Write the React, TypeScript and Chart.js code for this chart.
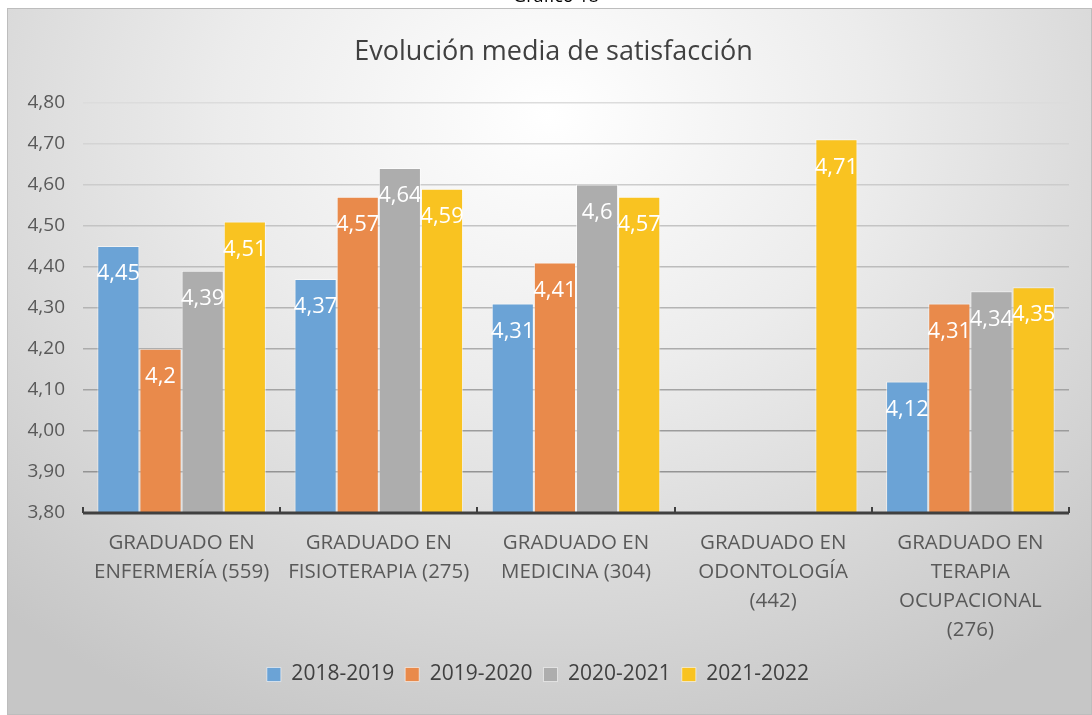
import React, { useEffect, useRef } from "react";
import { Chart, registerables } from "chart.js";

Chart.register(...registerables);

const categories: string[][] = [
  ["GRADUADO EN", "ENFERMERÍA (559)"],
  ["GRADUADO EN", "FISIOTERAPIA (275)"],
  ["GRADUADO EN", "MEDICINA (304)"],
  ["GRADUADO EN", "ODONTOLOGÍA", "(442)"],
  ["GRADUADO EN", "TERAPIA", "OCUPACIONAL", "(276)"],
];

const seriesNames = ["2018-2019", "2019-2020", "2020-2021", "2021-2022"];
const values2018: (number | null)[] = [4.45, 4.37, 4.31, null, 4.12];
const values2019: (number | null)[] = [4.2, 4.57, 4.41, null, 4.31];
const values2020: (number | null)[] = [4.39, 4.64, 4.6, null, 4.34];
const values2021: (number | null)[] = [4.51, 4.59, 4.57, 4.71, 4.35];
const seriesColors = ["#6BA3D6", "#E98A4B", "#ADADAD", "#F9C321"];

const titleText = "Evolución media de satisfacción";
const yMin = 3.8;
const yMax = 4.8;
const yStep = 0.1;

const fmtTick = (v: number) => (Math.round(v * 100) / 100).toFixed(2).replace(".", ",");
const fmtLabel = (v: number) => String(v).replace(".", ",");

const FONT = "'Open Sans', sans-serif";

const dataLabelPlugin = {
  id: "dataLabels",
  afterDatasetsDraw(chart: any) {
    const ctx = chart.ctx;
    ctx.save();
    ctx.fillStyle = "#ffffff";
    ctx.font = "22px " + FONT;
    ctx.textAlign = "center";
    ctx.textBaseline = "middle";
    chart.data.datasets.forEach((ds: any, i: number) => {
      const meta = chart.getDatasetMeta(i);
      meta.data.forEach((el: any, j: number) => {
        const v = ds.data[j];
        if (v === null || v === undefined) return;
        ctx.fillText(fmtLabel(v), el.x, el.y + 28);
      });
    });
    ctx.restore();
  },
};

const titleDrawPlugin = {
  id: "titleDraw",
  afterDraw(chart: any) {
    const tb = chart.titleBlock;
    if (!tb) return;
    const ctx = chart.ctx;
    ctx.save();
    ctx.fillStyle = "#404040";
    ctx.font = "27px " + FONT;
    ctx.textAlign = "center";
    ctx.textBaseline = "middle";
    const size = 27 * 1.2;
    ctx.fillText(titleText, chart.width / 2 + 4, tb.top + 27 + size / 2 + 1);
    ctx.restore();
  },
};

const axisPlugin = {
  id: "xAxisLine",
  afterDatasetsDraw(chart: any) {
    const ctx = chart.ctx;
    const area = chart.chartArea;
    const n = chart.data.labels.length;
    const w = (area.right - area.left) / n;
    ctx.save();
    ctx.strokeStyle = "#404040";
    ctx.lineWidth = 3;
    ctx.beginPath();
    ctx.moveTo(area.left, area.bottom);
    ctx.lineTo(area.right, area.bottom);
    ctx.stroke();
    ctx.lineWidth = 2;
    for (let i = 0; i <= n; i++) {
      const x = Math.round(area.left + i * w);
      ctx.beginPath();
      ctx.moveTo(x, area.bottom);
      ctx.lineTo(x, area.bottom - 6);
      ctx.stroke();
    }
    ctx.restore();
  },
};

export default function App() {
  const ref = useRef<HTMLCanvasElement | null>(null);

  useEffect(() => {
    if (!ref.current) return;
    Chart.defaults.font.family = FONT;
    const all = [values2018, values2019, values2020, values2021];
    const chart = new Chart(ref.current, {
      type: "bar",
      data: {
        labels: categories,
        datasets: all.map((d, i) => ({
          label: seriesNames[i],
          data: d,
          backgroundColor: seriesColors[i],
          borderColor: "rgba(255,255,255,0.55)",
          borderWidth: 1,
          categoryPercentage: 0.855,
          barPercentage: 1,
        })),
      },
      options: {
        responsive: false,
        animation: false,
        layout: { padding: { left: 0, right: 23, top: 0, bottom: 20 } },
        plugins: {
          title: {
            display: true,
            text: titleText,
            color: "rgba(0,0,0,0)",
            font: { size: 27, weight: "normal", family: FONT },
            padding: { top: 27, bottom: 35 },
          },
          legend: {
            position: "bottom",
            labels: {
              color: "#404040",
              font: { size: 21, family: FONT },
              boxWidth: 14,
              boxHeight: 14,
              padding: 11,
            },
          },
          tooltip: { enabled: false },
        },
        scales: {
          x: {
            grid: { display: false },
            border: { display: false },
            ticks: {
              color: "#595959",
              font: { size: 20.5, family: FONT, lineHeight: 1.415 },
              padding: 8,
              maxRotation: 0,
              autoSkip: false,
            },
            afterFit: (s: any) => {
              s.height = 140;
            },
          },
          y: {
            min: yMin,
            max: yMax,
            border: { display: false },
            grid: {
              drawTicks: false,
              lineWidth: 1.5,
              color: (c: any) => {
                const t = (c.tick ? c.tick.value - yMin : 0) / (yMax - yMin);
                const g = Math.round(140 + t * 80);
                return `rgb(${g},${g},${g})`;
              },
            },
            ticks: {
              stepSize: yStep,
              color: "#595959",
              font: { size: 19, family: FONT },
              padding: 18,
              callback: (v: any) => fmtTick(Number(v)),
            },
            afterFit: (s: any) => {
              s.width = 76;
            },
          },
        },
      },
      plugins: [axisPlugin, dataLabelPlugin, titleDrawPlugin],
    });
    return () => chart.destroy();
  }, []);

  return (
    <div
      style={{
        position: "fixed",
        left: 7,
        top: 8,
        width: 1085,
        height: 707,
        border: "1px solid #bdbdbd",
        boxSizing: "border-box",
        background:
          "radial-gradient(ellipse 75% 95% at 50% 15%, #ffffff 0%, #ececec 40%, #d6d6d6 75%, #c6c6c6 100%)",
      }}
    >
      <div
        style={{
          position: "absolute",
          top: -26,
          left: 0,
          width: 1096,
          textAlign: "center",
          fontFamily: FONT,
          fontSize: 18,
          color: "#000",
        }}
      >
        Gráfico 18
      </div>
      <canvas ref={ref} width={1085} height={707} style={{ position: "absolute", left: -1, top: -1 }} />
    </div>
  );
}
